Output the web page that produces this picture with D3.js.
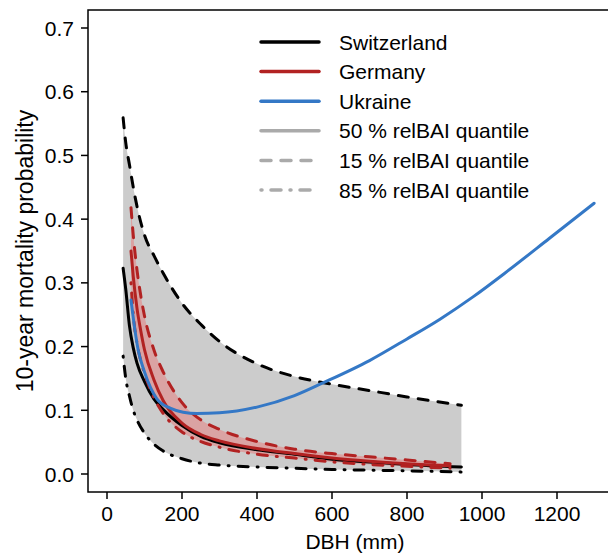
<!DOCTYPE html>
<html>
<head>
<meta charset="utf-8">
<script src="https://cdn.jsdelivr.net/npm/d3@7"></script>
<style>
  body { margin: 0; background: #fff; }
  svg text { font-family: "Liberation Sans", Arial, Helvetica, sans-serif; fill: #000; }
</style>
</head>
<body>
<svg id="chart" width="608" height="556"></svg>
<script>
// --- data ---
const xTicks = [0, 200, 400, 600, 800, 1000, 1200];
const yTicks = [0, 0.1, 0.2, 0.3, 0.4, 0.5, 0.6, 0.7];

// Switzerland, quantiles of relBAI
const dbhCH  = [43, 50, 60, 70, 80, 100, 125, 150, 200, 250, 300, 400, 500, 600, 700, 800, 945];
const ch15   = [.559, .52, .485, .45, .42, .375, .343, .315, .268, .235, .208, .173, .153, .141, .131, .121, .108];
const ch50   = [.323, .29, .232, .198, .174, .145, .118, .101, .076, .059, .049, .038, .031, .023, .019, .015, .011];
const ch85   = [.185, .15, .122, .10, .085, .064, .047, .036, .024, .017, .014, .011, .009, .007, .006, .005, .003];

// Germany
const dbhDE  = [64, 70, 80, 90, 100, 125, 150, 200, 250, 300, 400, 500, 600, 700, 800, 915];
const de15   = [.418, .375, .32, .28, .248, .195, .16, .112, .085, .07, .051, .039, .032, .027, .022, .016];
const de50   = [.35, .31, .26, .225, .195, .148, .115, .08, .062, .052, .040, .032, .025, .020, .016, .013];
const de85   = [.30, .25, .205, .178, .158, .12, .095, .066, .051, .042, .031, .025, .019, .015, .012, .009];

// Ukraine
const dbhUA  = [64, 70, 83, 100, 133, 170, 203, 240, 300, 400, 500, 576, 700, 800, 888, 976, 1067, 1180, 1299];
const ua50   = [.273, .245, .195, .16, .118, .103, .097, .095, .096, .105, .123, .143, .178, .212, .243, .278, .318, .37, .425];

const legendLabels = ["Switzerland", "Germany", "Ukraine",
  "50 % relBAI quantile", "15 % relBAI quantile", "85 % relBAI quantile"];

// --- layout ---
const RED = "#b22222", BLUE = "#3478c6", GREY = "#aaaaaa";
const DASH = "10,10", DASHDOT = "1,9,10,9";
const box = { left: 88, top: 10, right: 622, bottom: 492 };

const svg = d3.select("#chart");
const x = d3.scaleLinear().domain([0, 1200]).range([107, 557]);
const y = d3.scaleLinear().domain([0, 0.7]).range([474, 28]);

svg.append("clipPath").attr("id", "plotclip")
  .append("rect").attr("x", box.left).attr("y", box.top)
  .attr("width", box.right - box.left).attr("height", box.bottom - box.top);

const plot = svg.append("g").attr("clip-path", "url(#plotclip)");

function band(xs, hi, lo, fill) {
  const pts = xs.map((d, i) => ({ x: d, hi: hi[i], lo: lo[i] }));
  plot.append("path").datum(pts)
    .attr("fill", fill)
    .attr("d", d3.area().curve(d3.curveMonotoneX)
      .x(d => x(d.x)).y0(d => y(d.lo)).y1(d => y(d.hi)));
}

function curve(xs, ys, color, dash) {
  const pts = xs.map((d, i) => [d, ys[i]]);
  plot.append("path").datum(pts)
    .attr("fill", "none")
    .attr("stroke", color)
    .attr("stroke-width", 3)
    .attr("stroke-linecap", "round")
    .attr("stroke-dasharray", dash || null)
    .attr("d", d3.line().curve(d3.curveMonotoneX).x(d => x(d[0])).y(d => y(d[1])));
}

band(dbhCH, ch15, ch85, "#cccccc");
band(dbhDE, de15, de85, "#daa3a3");

curve(dbhCH, ch15, "#000", DASH);
curve(dbhCH, ch85, "#000", DASHDOT);
curve(dbhCH, ch50, "#000");
curve(dbhDE, de15, RED, DASH);
curve(dbhDE, de85, RED, DASHDOT);
curve(dbhDE, de50, RED);
curve(dbhUA, ua50, BLUE);

// --- box and axes ---
svg.append("rect")
  .attr("x", box.left).attr("y", box.top)
  .attr("width", box.right - box.left).attr("height", box.bottom - box.top)
  .attr("fill", "none").attr("stroke", "#000").attr("stroke-width", 1.5);

const xAxis = svg.append("g");
xTicks.forEach(t => {
  xAxis.append("line").attr("x1", x(t)).attr("x2", x(t))
    .attr("y1", box.bottom).attr("y2", box.bottom + 7)
    .attr("stroke", "#000").attr("stroke-width", 1.5);
  xAxis.append("text").attr("x", x(t)).attr("y", 521)
    .attr("text-anchor", "middle").attr("font-size", 21).text(t);
});

const yAxis = svg.append("g");
yTicks.forEach(t => {
  yAxis.append("line").attr("x1", box.left - 7).attr("x2", box.left)
    .attr("y1", y(t)).attr("y2", y(t))
    .attr("stroke", "#000").attr("stroke-width", 1.5);
  yAxis.append("text").attr("x", 74).attr("y", y(t))
    .attr("dy", "0.36em")
    .attr("text-anchor", "end").attr("font-size", 21).text(t.toFixed(1));
});

svg.append("text").attr("x", (box.left + box.right) / 2).attr("y", 549)
  .attr("text-anchor", "middle").attr("font-size", 21).text("DBH (mm)");

svg.append("text")
  .attr("transform", `translate(33,${(box.top + box.bottom) / 2}) rotate(-90)`)
  .attr("text-anchor", "middle").attr("font-size", 23)
  .text("10-year mortality probability");

// --- legend ---
const legendStyles = [
  { color: "#000", dash: null }, { color: RED, dash: null }, { color: BLUE, dash: null },
  { color: GREY, dash: null }, { color: GREY, dash: DASH }, { color: GREY, dash: DASHDOT }
];
const lg = svg.append("g");
legendLabels.forEach((lab, i) => {
  const ly = 42 + i * 29.6;
  const st = legendStyles[i];
  lg.append("line").attr("x1", 261).attr("x2", 319).attr("y1", ly).attr("y2", ly)
    .attr("stroke", st.color).attr("stroke-width", 3.5)
    .attr("stroke-linecap", "round")
    .attr("stroke-dasharray", st.dash);
  lg.append("text").attr("x", 339).attr("y", ly).attr("dy", "0.36em")
    .attr("font-size", 21).text(lab);
});
</script>
</body>
</html>
